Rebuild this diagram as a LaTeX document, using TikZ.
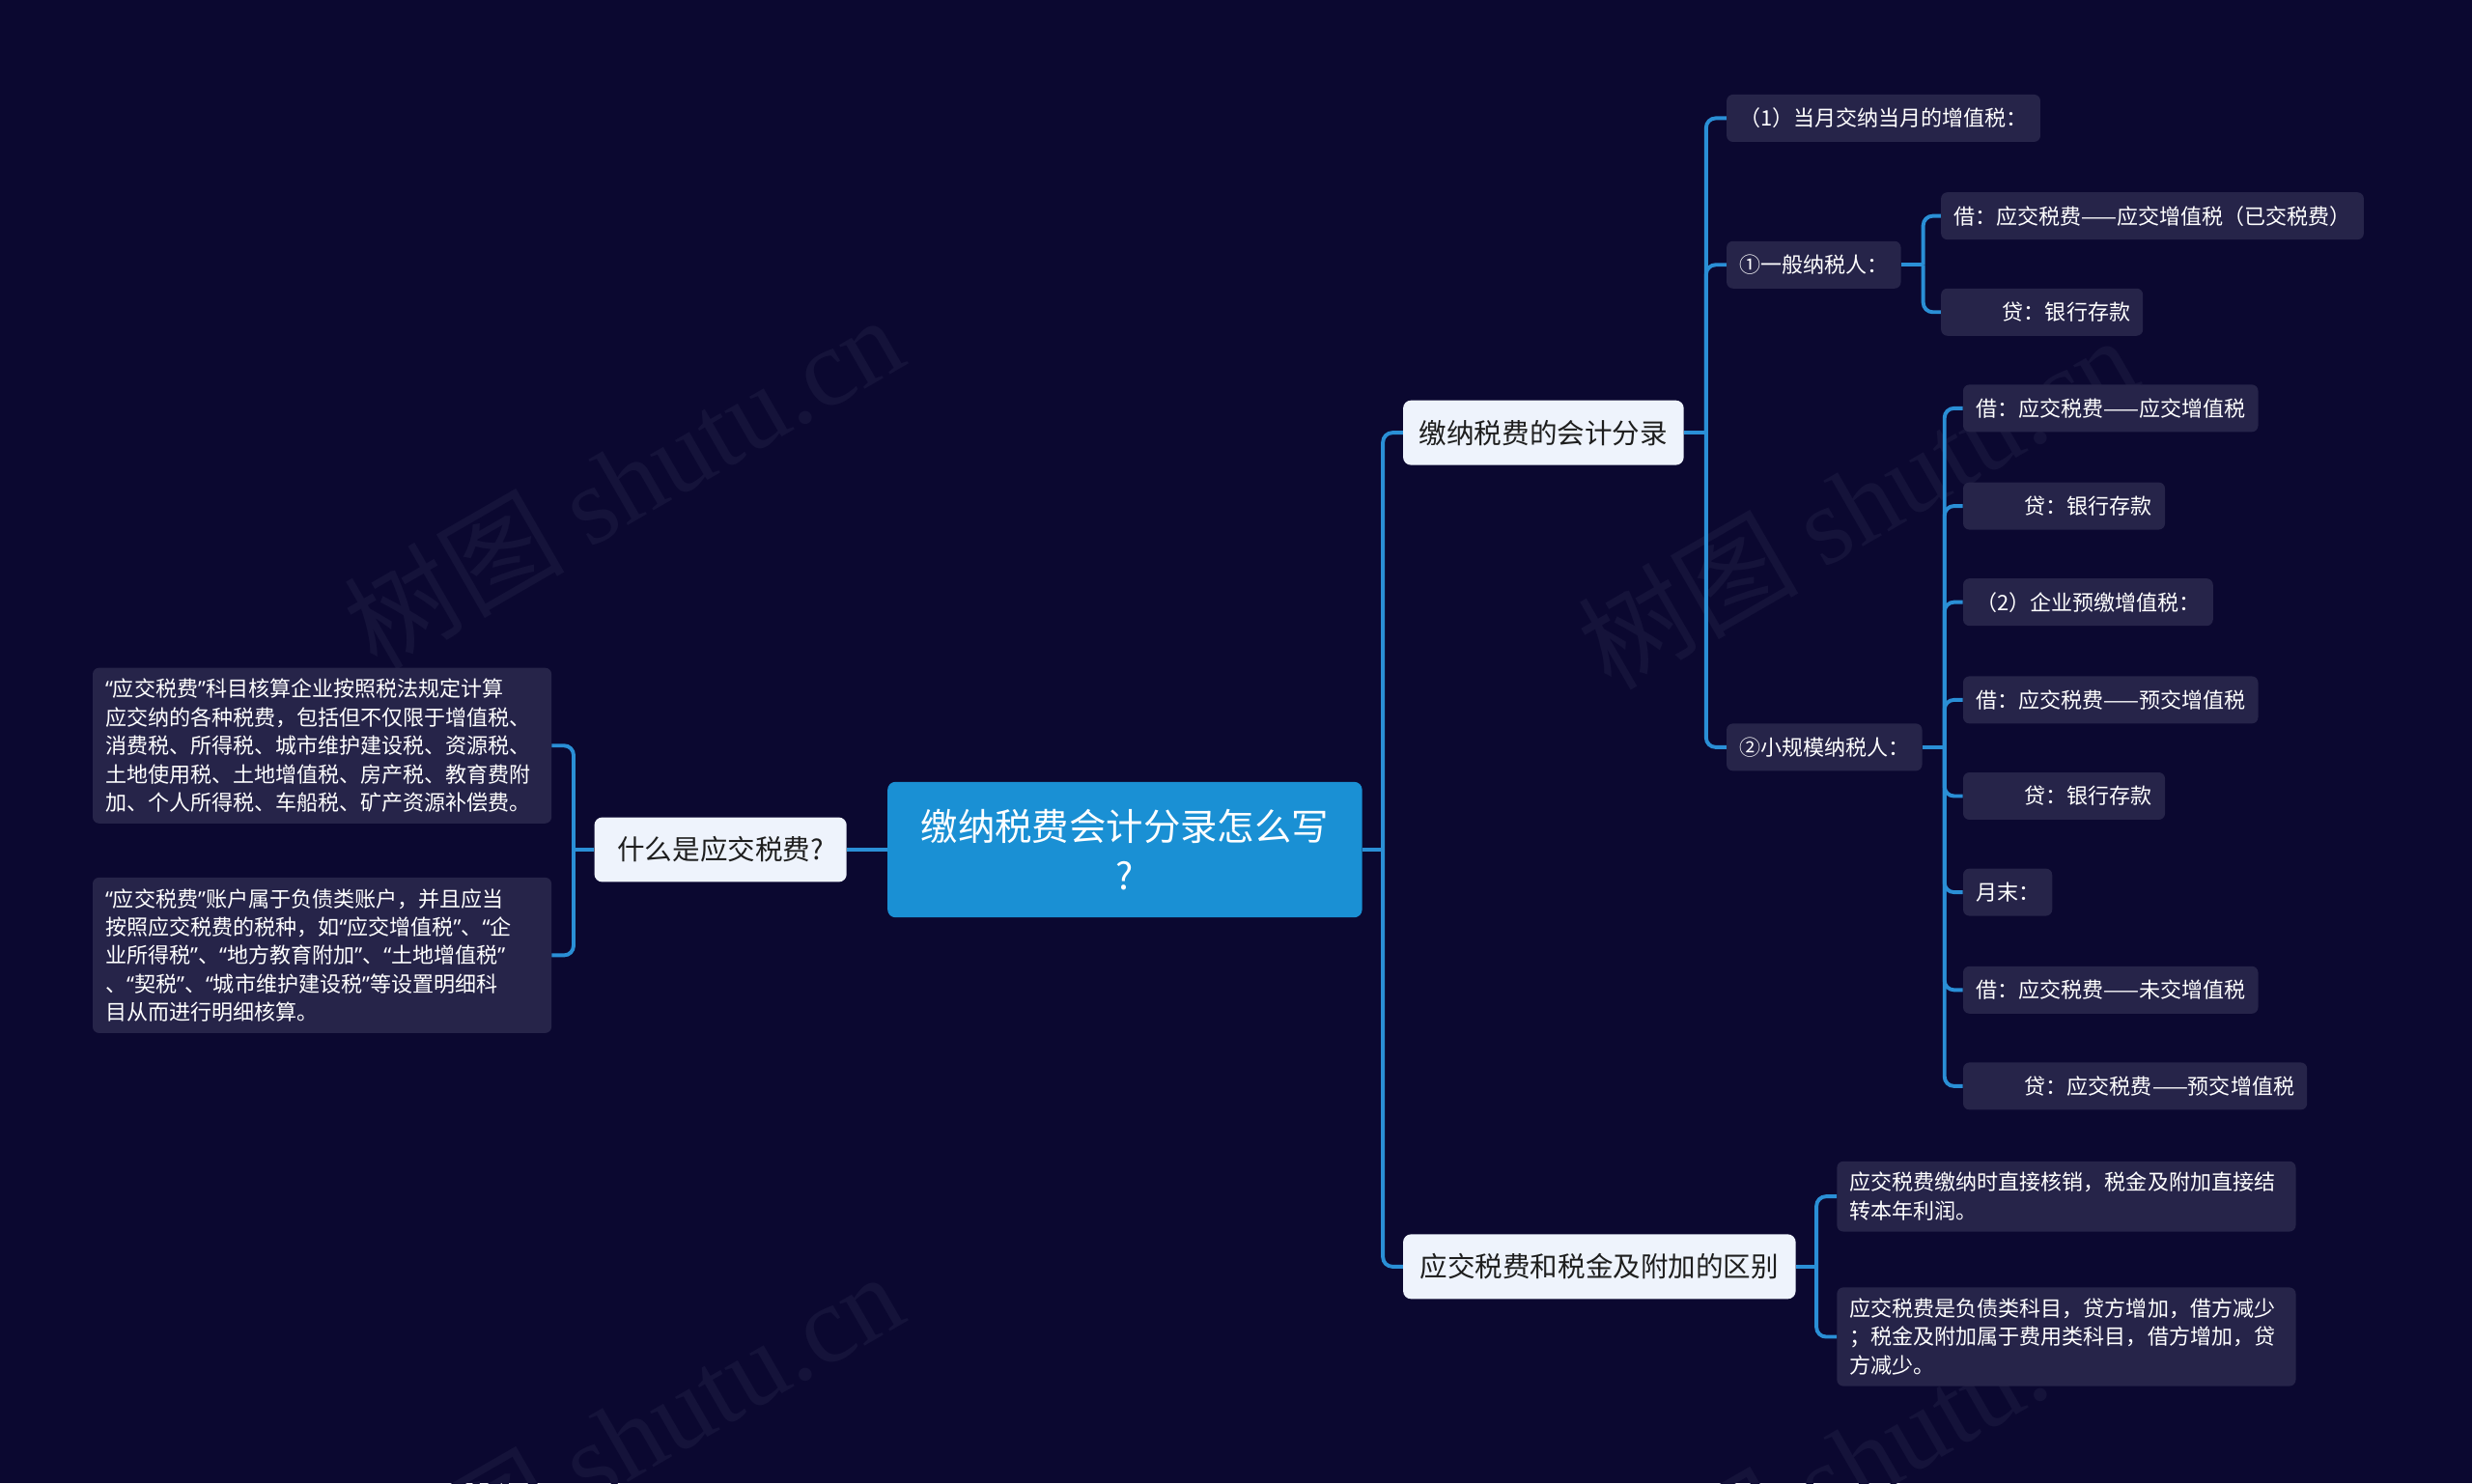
\documentclass[tikz,border=0pt]{standalone}
\usepackage{fontspec}
\setmainfont{Noto Sans CJK SC}
\newfontfamily\wmserif{Liberation Serif}
\newfontfamily\quotefont{Noto Sans}
\newcommand{\oquote}{{\quotefont “}}
\newcommand{\cquote}{{\quotefont ”}}

\definecolor{bgnavy}{HTML}{0B0830}
\definecolor{rootblue}{HTML}{1A90D4}
\definecolor{linkblue}{HTML}{2A8FD6}
\definecolor{topicfill}{HTML}{EEF3FC}
\definecolor{topictext}{HTML}{1E1E1E}
\definecolor{leaffill}{HTML}{262449}
\definecolor{markgray}{HTML}{15133A}

\begin{document}
\begin{tikzpicture}[x=1pt, y=-1pt,
    root/.style={fill=rootblue, rounded corners=5pt, text=white, minimum width=301pt, minimum height=86pt, align=center, font=\fontsize{23.5}{31}\selectfont},
    topic/.style={fill=topicfill, rounded corners=5pt, text=topictext, minimum height=41pt, font=\fontsize{17.5}{22}\selectfont},
    leaf/.style={fill=leaffill, rounded corners=4pt, text=white, minimum height=30pt, inner xsep=8pt, inner ysep=7pt, anchor=west, align=left, font=\fontsize{13.5}{18}\selectfont},
    note/.style={leaf, text width=275pt},
    watermark/.style={text=markgray, rotate=30, font=\fontsize{70}{70}\selectfont},
    link/.style={draw=linkblue, line width=2.4pt, rounded corners=6pt}]

    % Background and page size
    \fill[bgnavy] (0,0) rectangle (1568,941);
    \useasboundingbox (0,0) rectangle (1568,941);

    % Watermarks
    \node[watermark] (wm1) at (395,305) {树图 {\wmserif shutu.cn}};
    \node[watermark] (wm2) at (1178,318) {树图 {\wmserif shutu.cn}};
    \node[watermark] (wm3) at (395,912) {树图 {\wmserif shutu.cn}};
    \node[watermark] (wm4) at (1178,925) {树图 {\wmserif shutu.cn}};

    % Central topic and main branches
    \node[root] (root) at (713.5,539) {缴纳税费会计分录怎么写\\?};
    \node[topic, minimum width=160pt] (ask) at (457,539) {什么是应交税费?};
    \node[topic, minimum width=178pt] (entry) at (979,274.5) {缴纳税费的会计分录};
    \node[topic, minimum width=249pt] (diff) at (1014.5,803.5) {应交税费和税金及附加的区别};

    % Left side notes
    \node[note, anchor=east] (askleafa) at (350,473) {\oquote 应交税费\cquote 科目核算企业按照税法规定计算\\应交纳的各种税费，包括但不仅限于增值税、\\消费税、所得税、城市维护建设税、资源税、\\土地使用税、土地增值税、房产税、教育费附\\加、个人所得税、车船税、矿产资源补偿费。};
    \node[note, anchor=east] (askleafb) at (350,606) {\oquote 应交税费\cquote 账户属于负债类账户，并且应当\\按照应交税费的税种，如\oquote 应交增值税\cquote 、\oquote 企\\业所得税\cquote 、\oquote 地方教育附加\cquote 、\oquote 土地增值税\cquote\\、\oquote 契税\cquote 、\oquote 城市维护建设税\cquote 等设置明细科\\目从而进行明细核算。};

    % Accounting entries
    \node[leaf] (vatnow) at (1095,75) {（1）当月交纳当月的增值税：};
    \node[leaf] (general) at (1095,168) {①一般纳税人：};
    \node[leaf] (small) at (1095,474) {②小规模纳税人：};

    \node[leaf] (gendebit) at (1231,137) {借：应交税费——应交增值税（已交税费）};
    \node[leaf] (gencredit) at (1231,198) {\hspace*{2.3em}贷：银行存款};

    \node[leaf] (smalla) at (1245,259) {借：应交税费——应交增值税};
    \node[leaf] (smallb) at (1245,321) {\hspace*{2.3em}贷：银行存款};
    \node[leaf] (smallc) at (1245,382) {（2）企业预缴增值税：};
    \node[leaf] (smalld) at (1245,444) {借：应交税费——预交增值税};
    \node[leaf] (smalle) at (1245,505) {\hspace*{2.3em}贷：银行存款};
    \node[leaf] (smallf) at (1245,566) {月末：};
    \node[leaf] (smallg) at (1245,628) {借：应交税费——未交增值税};
    \node[leaf] (smallh) at (1245,689) {\hspace*{2.3em}贷：应交税费——预交增值税};

    % Difference notes
    \node[note] (diffa) at (1165,759) {应交税费缴纳时直接核销，税金及附加直接结\\转本年利润。};
    \node[note] (diffb) at (1165,848) {应交税费是负债类科目，贷方增加，借方减少\\；税金及附加属于费用类科目，借方增加，贷\\方减少。};

    % Connect the topics
    \draw[link] (root.west) -- (ask.east);
    \draw[link] (root.east) -- ++(13,0) coordinate (roothub);
    \draw[link] (roothub) |- (entry.west);
    \draw[link] (roothub) |- (diff.west);

    \draw[link] (ask.west) -- ++(-13,0) coordinate (askhub);
    \draw[link] (askhub) |- (askleafa.east);
    \draw[link] (askhub) |- (askleafb.east);

    \draw[link] (entry.east) -- ++(14,0) coordinate (entryhub);
    \draw[link] (entryhub) |- (vatnow.west);
    \draw[link] (entryhub) |- (general.west);
    \draw[link] (entryhub) |- (small.west);

    \draw[link] (general.east) -- ++(14,0) coordinate (generalhub);
    \draw[link] (generalhub) |- (gendebit.west);
    \draw[link] (generalhub) |- (gencredit.west);

    \draw[link] (small.east) -- ++(14,0) coordinate (smallhub);
    \draw[link] (smallhub) |- (smalla.west);
    \draw[link] (smallhub) |- (smallb.west);
    \draw[link] (smallhub) |- (smallc.west);
    \draw[link] (smallhub) |- (smalld.west);
    \draw[link] (smallhub) |- (smalle.west);
    \draw[link] (smallhub) |- (smallf.west);
    \draw[link] (smallhub) |- (smallg.west);
    \draw[link] (smallhub) |- (smallh.west);

    \draw[link] (diff.east) -- ++(13,0) coordinate (diffhub);
    \draw[link] (diffhub) |- (diffa.west);
    \draw[link] (diffhub) |- (diffb.west);
\end{tikzpicture}
\end{document}
